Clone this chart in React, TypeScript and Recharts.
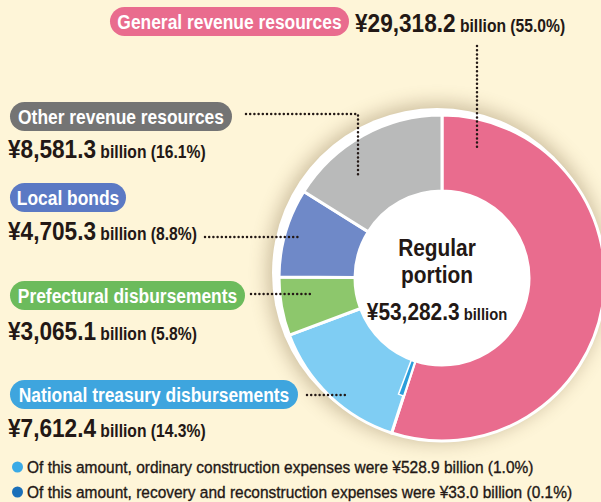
import { PieChart, Pie, Cell } from "recharts";

const categories = [
  "General revenue resources",
  "National treasury disbursements",
  "Prefectural disbursements",
  "Local bonds",
  "Other revenue resources",
];
const amounts = [29318.2, 7612.4, 3065.1, 4705.3, 8581.3];
const shares = [55.0, 14.3, 5.8, 8.8, 16.1];
const sliceColors = ["#e96c8e", "#7fcdf3", "#8dc76c", "#6f89c8", "#b9baba"];
const pillColors = ["#e96c8e", "#3ea5de", "#6cbb5c", "#5b79c4", "#747474"];

const total = 53282.3;
// recovery & reconstruction part (0.1%) drawn a bit wider so it stays visible
const sliverShare = 0.7;

const pieData = categories.map((name, i) => ({
  name,
  value: shares[i],
  fill: sliceColors[i],
}));

const sliverData = [
  { name: "before", value: shares[0], fill: "transparent" },
  { name: "recovery", value: sliverShare, fill: "#2b9edb" },
  { name: "after", value: 100 - shares[0] - sliverShare, fill: "transparent" },
];

const notes = [
  { color: "#3aaae6", text: "Of this amount, ordinary construction expenses were ¥528.9 billion (1.0%)" },
  { color: "#1a6fb9", text: "Of this amount, recovery and reconstruction expenses were ¥33.0 billion (0.1%)" },
];

const FONT = "'Liberation Sans', Arial, sans-serif";
const INK = "#231815";
const SQ = 0.87; // horizontal squeeze to mimic the condensed typeface

const fmt = (v: number) =>
  "¥" + v.toLocaleString("en-US", { minimumFractionDigits: 1, maximumFractionDigits: 1 });

// label layout: pill box, value baseline
const labels = [
  { i: 0, px: 110, py: 7, pw: 239, vx: 355, vy: 32 },
  { i: 4, px: 10, py: 102, pw: 222, vx: 8, vy: 158 },
  { i: 3, px: 10, py: 183, pw: 116, vx: 8, vy: 240 },
  { i: 2, px: 10, py: 281, pw: 235, vx: 8, vy: 340 },
  { i: 1, px: 10, py: 380, pw: 288, vx: 8, vy: 437 },
];

const dot = {
  stroke: INK,
  strokeWidth: 2.5,
  strokeLinecap: "round" as const,
  strokeDasharray: "0 4.2",
  fill: "none",
};

export default function App() {
  return (
    <div
      style={{
        position: "absolute",
        left: 0,
        top: 0,
        width: 601,
        height: 502,
        background: "#fef5d8",
        fontFamily: FONT,
        overflow: "hidden",
      }}
    >
      <div
        style={{
          position: "absolute",
          left: 437 - 165,
          top: 273 - 165,
          width: 330,
          height: 330,
          borderRadius: "50%",
          background: "#ffffff",
          boxShadow: "0 0 18px 5px rgba(110,85,50,0.33)",
        }}
      />
      <div style={{ position: "absolute", left: 0, top: 0 }}>
        <PieChart width={601} height={502}>
          <Pie
            data={pieData}
            dataKey="value"
            nameKey="name"
            cx={437}
            cy={273}
            innerRadius={87}
            outerRadius={163}
            startAngle={90}
            endAngle={-270}
            stroke="#ffffff"
            strokeWidth={3}
            isAnimationActive={false}
          >
            {pieData.map((d, i) => (
              <Cell key={i} fill={d.fill} />
            ))}
          </Pie>
          <Pie
            data={sliverData}
            dataKey="value"
            cx={437}
            cy={273}
            innerRadius={88}
            outerRadius={124}
            startAngle={90}
            endAngle={-270}
            isAnimationActive={false}
          >
            {sliverData.map((d, i) => (
              <Cell
                key={i}
                fill={d.fill}
                stroke={d.fill === "transparent" ? "none" : "#ffffff"}
                strokeWidth={1.5}
              />
            ))}
          </Pie>
        </PieChart>
      </div>

      <svg
        width={601}
        height={502}
        style={{ position: "absolute", left: 0, top: 0, fontFamily: FONT }}
      >
        {/* leader lines */}
        <path d="M477 46 L477 150" {...dot} />
        <path d="M246 114 L358 114 L358 176" {...dot} />
        <path d="M205 237 L299 237" {...dot} />
        <path d="M251 294 L311 294" {...dot} />
        <path d="M307 395 L348 395" {...dot} />

        {/* labels */}
        {labels.map((l) => (
          <g key={l.i}>
            <rect x={l.px} y={l.py} width={l.pw} height={29} rx={14.5} fill={pillColors[l.i]} />
            <text
              transform={`translate(${l.px + l.pw / 2},${l.py + 22}) scale(${SQ} 1)`}
              textAnchor="middle"
              fontSize={20}
              fontWeight={700}
              fill="#ffffff"
            >
              {categories[l.i]}
            </text>
            <text
              transform={`translate(${l.vx},${l.vy}) scale(${SQ} 1)`}
              fontWeight={700}
              fill={INK}
            >
              <tspan fontSize={26}>{fmt(amounts[l.i])}</tspan>
              <tspan fontSize={18}> billion ({shares[l.i].toFixed(1)}%)</tspan>
            </text>
          </g>
        ))}

        {/* centre */}
        <g fontWeight={700} fill={INK}>
          <text transform={`translate(437,256) scale(${SQ} 1)`} textAnchor="middle" fontSize={24}>
            Regular
          </text>
          <text transform={`translate(437,283) scale(${SQ} 1)`} textAnchor="middle" fontSize={24}>
            portion
          </text>
          <text transform={`translate(437,320) scale(${SQ} 1)`} textAnchor="middle">
            <tspan fontSize={24}>{fmt(total)}</tspan>
            <tspan fontSize={17}> billion</tspan>
          </text>
        </g>

        {/* notes */}
        {notes.map((n, k) => (
          <g key={k}>
            <circle cx={17.5} cy={467 + k * 25} r={5.5} fill={n.color} />
            <text
              transform={`translate(27,${472.5 + k * 25}) scale(0.91 1)`}
              fontSize={17}
              fill={INK}
              stroke={INK}
              strokeWidth={0.35}
            >
              {n.text}
            </text>
          </g>
        ))}
      </svg>
    </div>
  );
}
